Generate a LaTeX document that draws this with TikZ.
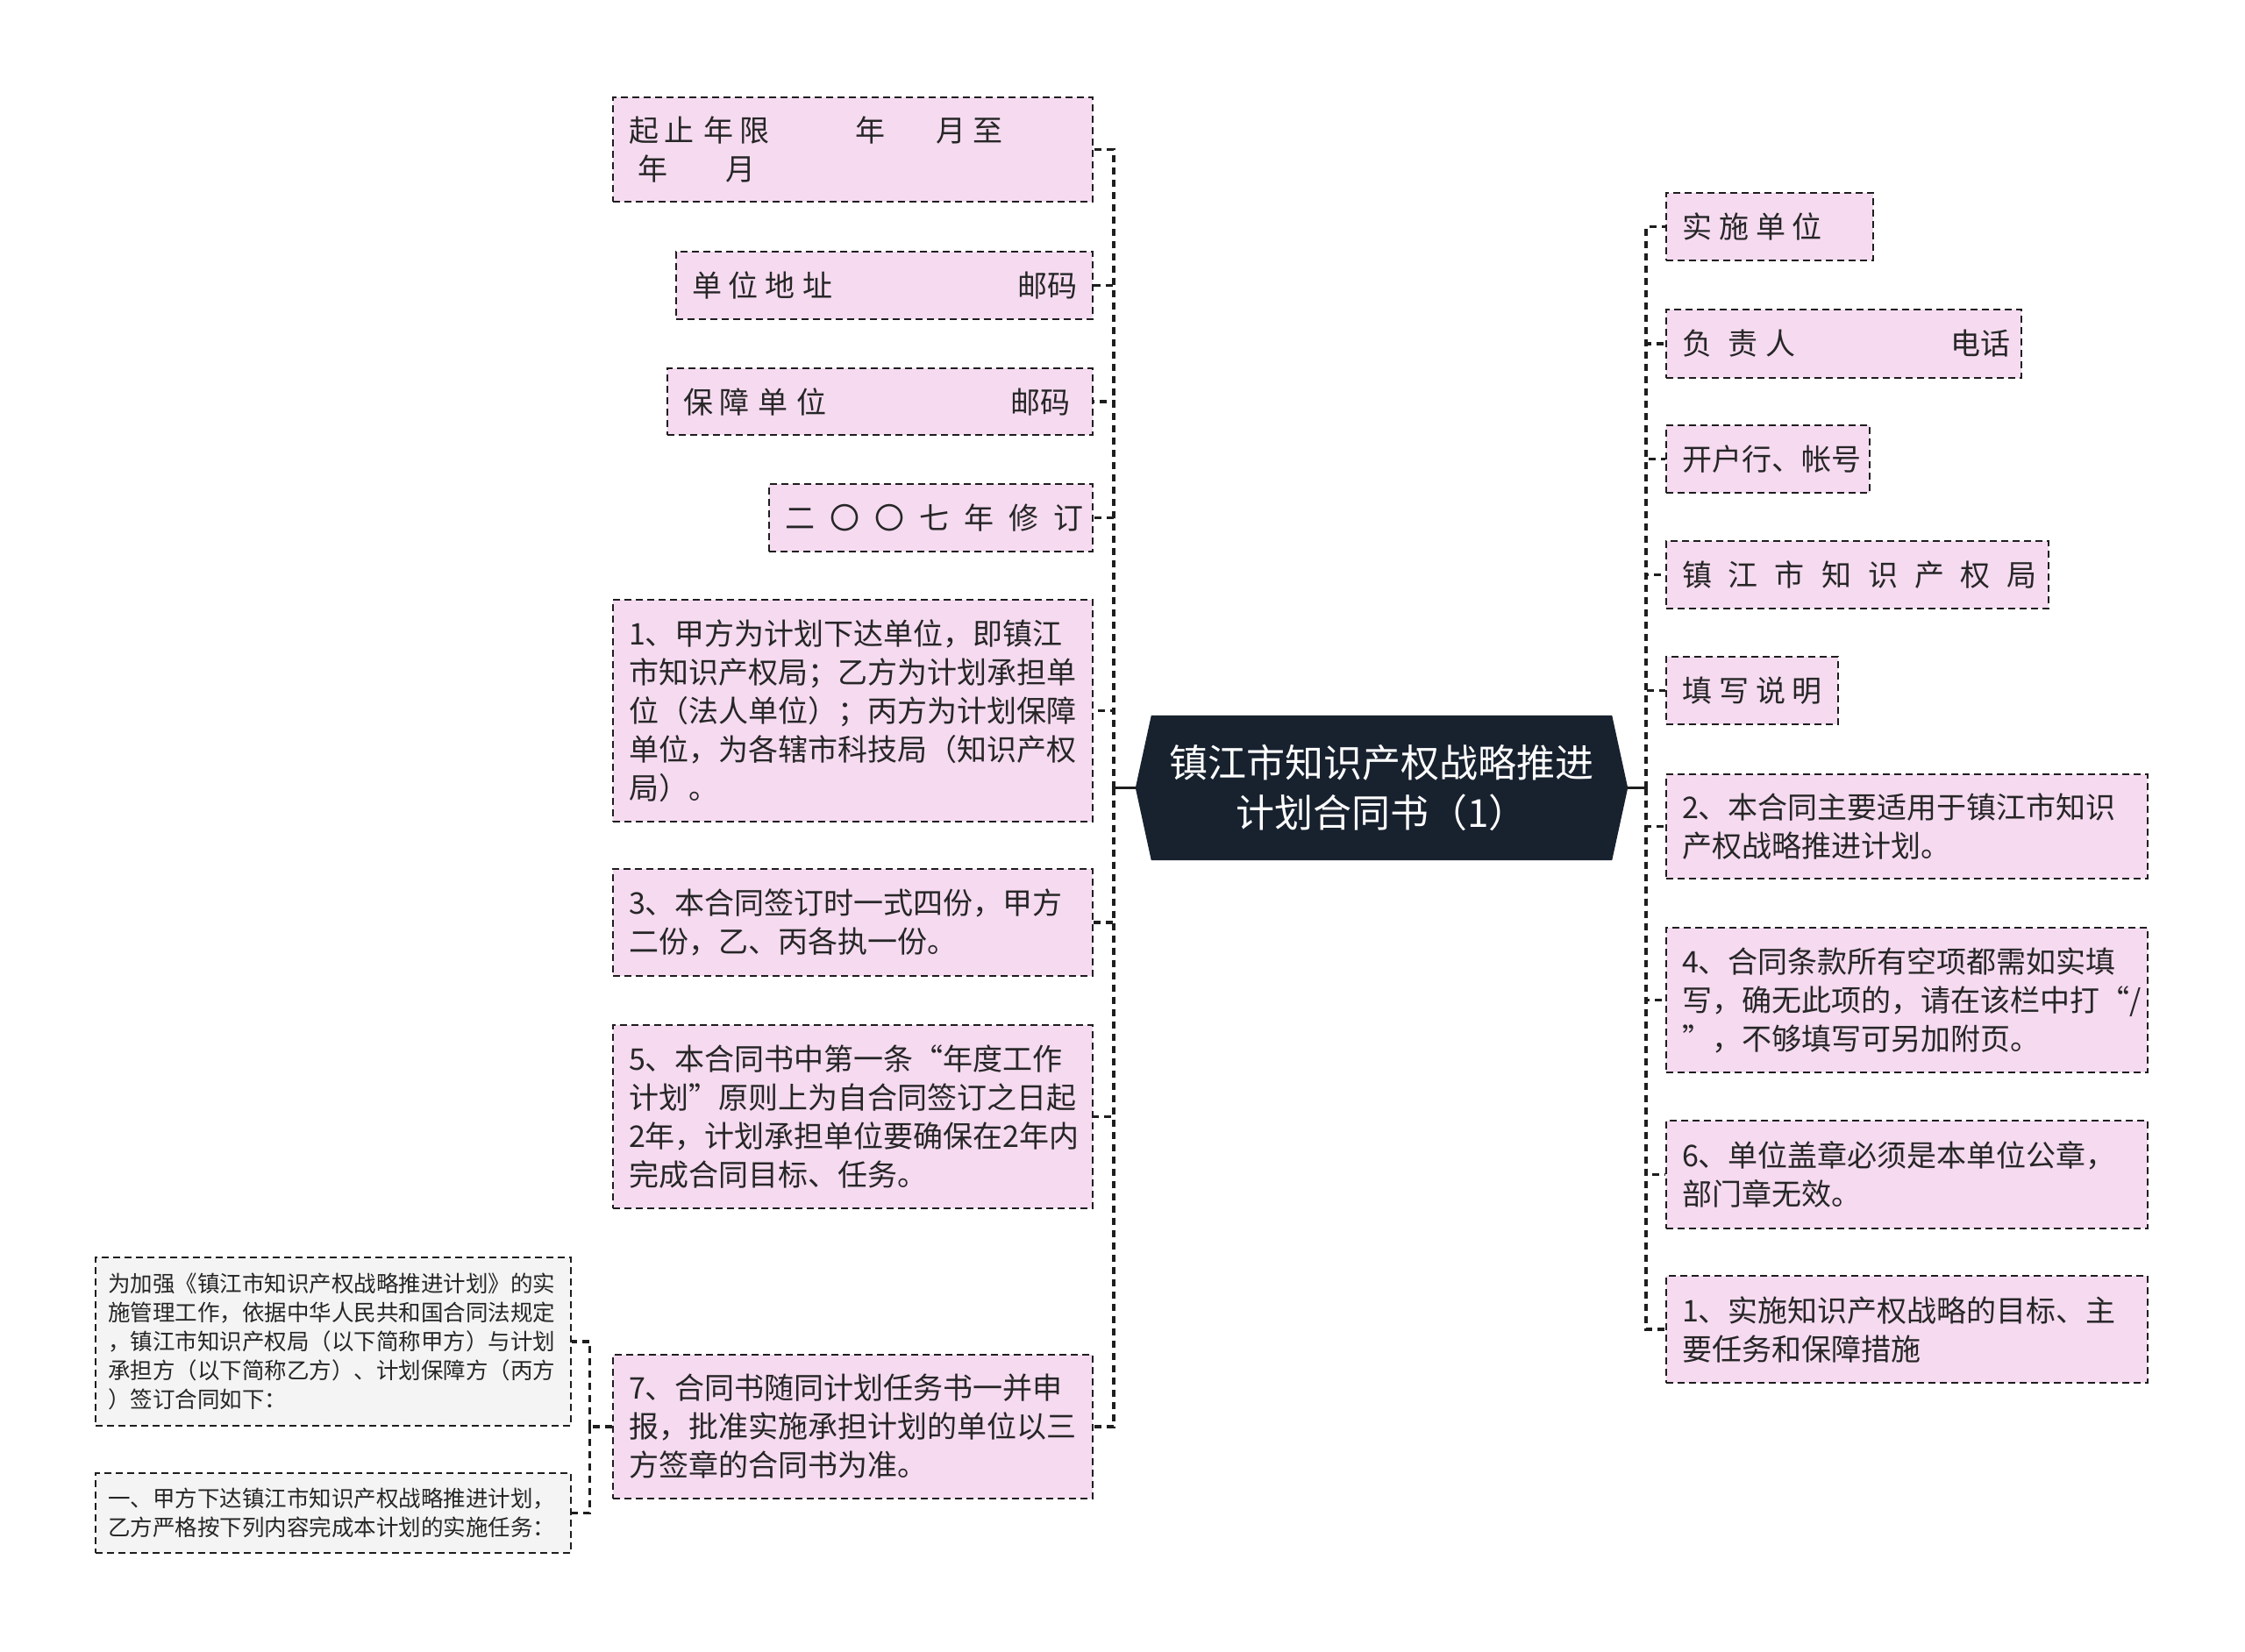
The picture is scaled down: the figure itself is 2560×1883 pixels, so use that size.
\documentclass[tikz,border=0pt]{standalone}
\usepackage{fontspec}
\setmainfont{Noto Sans CJK SC}
\usetikzlibrary{backgrounds}
\definecolor{pinkbox}{HTML}{F5DAF0}
\definecolor{graybox}{HTML}{F4F4F4}
\definecolor{rootc}{HTML}{18222F}
\definecolor{linec}{HTML}{1E1E1E}
\definecolor{txt}{HTML}{262626}
\newcommand\gp[1]{\hspace*{#1pt}}
\setlength\parindent{0pt}
\begin{document}
\begin{tikzpicture}[x=1pt,y=-1pt,
  box/.style={draw=linec, line width=2.8pt, dash pattern=on 8pt off 5pt, fill=pinkbox, text=txt,
    font=\fontsize{34}{44}\selectfont, inner xsep=18pt, inner ysep=0pt, align=left, anchor=center},
  gbox/.style={box, fill=graybox, font=\fontsize{25.5}{33}\selectfont, inner xsep=14pt},
  conn/.style={draw=linec, line width=3.5pt, dash pattern=on 8pt off 6pt},
  solidconn/.style={draw=linec, line width=3.5pt},
]
\useasboundingbox (0,0) rectangle (2560,1883);

% root
\node[text=white, font=\fontsize{44}{57}\selectfont, align=center, minimum width=561pt,
      minimum height=165pt, inner sep=0pt] (root) at (1575.5,898.5)
      {镇江市知识产权战略推进\\计划合同书（1）};
\begin{scope}[on background layer]
\fill[white] (0,0) rectangle (2560,1883);
\fill[rootc] (root.west) -- ([xshift=18pt]root.north west) -- ([xshift=-18pt]root.north east)
  -- (root.east) -- ([xshift=-18pt]root.south east) -- ([xshift=18pt]root.south west) -- cycle;
\end{scope}

% left boxes
\node[box, minimum width=547pt, minimum height=119pt, text width=511pt] (b1) at (972.5,170.5)
  {起\gp{7}止\gp{10}年\gp{8}限\gp{98}年\gp{58}月\gp{8}至\\\gp{10}年\gp{67}月};
\node[box, minimum width=475pt, minimum height=77pt, text width=439pt] (b2) at (1008.5,325.5)
  {单\gp{8}位\gp{8}地\gp{9}址\gp{210}邮码};
\node[box, minimum width=485pt, minimum height=76pt, text width=449pt] (b3) at (1003.5,458)
  {保\gp{8}障\gp{10}单\gp{9}位\gp{210}邮码};
\node[box, minimum width=369pt, minimum height=77pt, text width=333pt] (b4) at (1061.5,590.5)
  {二\gp{17}〇\gp{17}〇\gp{17}七\gp{17}年\gp{17}修\gp{17}订};
\node[box, minimum width=547pt, minimum height=253pt, text width=511pt] (b5) at (972.5,810.5)
  {1、甲方为计划下达单位，即镇江\\市知识产权局；乙方为计划承担单\\位（法人单位）；丙方为计划保障\\单位，为各辖市科技局（知识产权\\局）。};
\node[box, minimum width=547pt, minimum height=122pt, text width=511pt] (b6) at (972.5,1052)
  {3、本合同签订时一式四份，甲方\\二份，乙、丙各执一份。};
\node[box, minimum width=547pt, minimum height=209pt, text width=511pt] (b7) at (972.5,1273.5)
  {5、本合同书中第一条“年度工作\\计划”原则上为自合同签订之日起\\2年，计划承担单位要确保在2年内\\完成合同目标、任务。};
\node[box, minimum width=547pt, minimum height=164pt, text width=511pt] (b8) at (972.5,1627)
  {7、合同书随同计划任务书一并申\\报，批准实施承担计划的单位以三\\方签章的合同书为准。};

% far left boxes
\node[gbox, minimum width=542pt, minimum height=192pt, text width=514pt] (l1) at (380,1530)
  {为加强《镇江市知识产权战略推进计划》的实\\施管理工作，依据中华人民共和国合同法规定\\，镇江市知识产权局（以下简称甲方）与计划\\承担方（以下简称乙方）、计划保障方（丙方\\）签订合同如下：};
\node[gbox, minimum width=542pt, minimum height=91pt, text width=514pt] (l2) at (380,1725.5)
  {一、甲方下达镇江市知识产权战略推进计划，\\乙方严格按下列内容完成本计划的实施任务：};

% right boxes
\node[box, minimum width=236pt, minimum height=77pt, text width=200pt] (r1) at (2018,258.5)
  {实\gp{8}施\gp{8}单\gp{8}位};
\node[box, minimum width=405pt, minimum height=78pt, text width=369pt] (r2) at (2102.5,392)
  {负\gp{19}责\gp{8}人\gp{177}电话};
\node[box, minimum width=232pt, minimum height=77pt, text width=196pt] (r3) at (2016,523.5)
  {开户行、帐号};
\node[box, minimum width=436pt, minimum height=77pt, text width=400pt] (r4) at (2118,655.5)
  {镇\gp{19}江\gp{19}市\gp{19}知\gp{19}识\gp{19}产\gp{19}权\gp{19}局};
\node[box, minimum width=196pt, minimum height=77pt, text width=160pt] (r5) at (1998,787.5)
  {填\gp{8}写\gp{8}说\gp{8}明};
\node[box, minimum width=549pt, minimum height=119pt, text width=513pt] (r6) at (2174.5,942.5)
  {2、本合同主要适用于镇江市知识\\产权战略推进计划。};
\node[box, minimum width=549pt, minimum height=165pt, text width=513pt] (r7) at (2174.5,1140.5)
  {4、合同条款所有空项都需如实填\\写，确无此项的，请在该栏中打“/\\”，不够填写可另加附页。};
\node[box, minimum width=549pt, minimum height=123pt, text width=513pt] (r8) at (2174.5,1339.5)
  {6、单位盖章必须是本单位公章，\\部门章无效。};
\node[box, minimum width=549pt, minimum height=122pt, text width=513pt] (r9) at (2174.5,1516)
  {1、实施知识产权战略的目标、主\\要任务和保障措施};

% connectors
\coordinate (lt) at ([xshift=-25pt]root.west);
\coordinate (rt) at ([xshift=21pt]root.east);
\coordinate (bt) at ([xshift=-25pt]b8.west);
\draw[solidconn] (root.west) -- (lt);
\draw[solidconn] (root.east) -- (rt);
\foreach \i in {1,...,8} \draw[conn] (lt) |- (b\i.east);
\foreach \i in {1,...,9} \draw[conn] (rt) |- (r\i.west);
\draw[conn] (b8.west) -- (bt);
\foreach \i in {1,2} \draw[conn] (bt) |- (l\i.east);
\end{tikzpicture}
\end{document}
